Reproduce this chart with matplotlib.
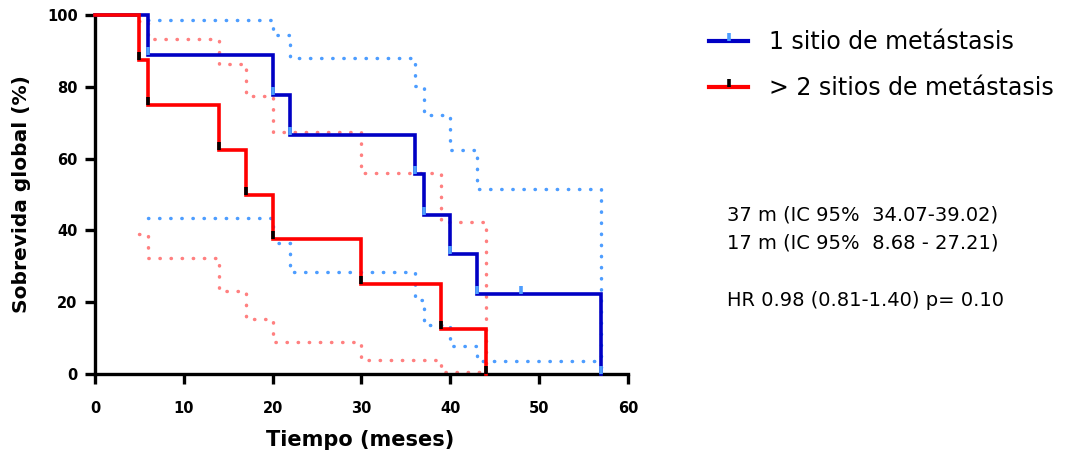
import matplotlib
matplotlib.use("Agg")
from matplotlib import pyplot as plt
from matplotlib.path import Path
from matplotlib.lines import Line2D

# Kaplan-Meier steps
t_one = [0, 6, 20, 22, 36, 37, 40, 43, 57]
s_one = [100, 88.9, 77.8, 66.7, 55.6, 44.4, 33.3, 22.2, 0]
cens_one_t = [48]
cens_one_s = [22.2]

t_two = [0, 5, 6, 14, 17, 20, 30, 39, 44]
s_two = [100, 87.5, 75, 62.5, 50, 37.5, 25, 12.5, 0]

# 95% confidence bands
ci_one_t = [6, 20, 22, 36, 37, 40, 43, 57]
ci_one_hi = [98.6, 94.4, 87.9, 80.2, 72.1, 62.4, 51.4, 51.4]
ci_one_lo = [43.4, 36.6, 28.4, 20.6, 13.7, 7.9, 3.6, 3.6]

ci_two_t = [5, 6, 14, 17, 20, 30, 39, 44]
ci_two_hi = [98.4, 93.3, 86.3, 77.5, 67.5, 55.9, 42.4, 42.4]
ci_two_lo = [38.9, 32.3, 23.2, 15.4, 8.8, 3.9, 0.6, 0.6]

labels = ['1 sitio de metástasis', '> 2 sitios de metástasis']
notes = ['37 m (IC 95%  34.07-39.02)', '17 m (IC 95%  8.68 - 27.21)',
         'HR 0.98 (0.81-1.40) p= 0.10']

BLUE = '#0000c4'
BLUE_LT = '#4d9dff'
RED = '#ff0000'
RED_LT = '#ff8080'

# tick mark drawn from the step level upwards
up_tick = Path([(0, 0), (0, 1)])


def km(ax, t, s, color, mark_color):
    ax.step(t, s, where='post', color=color, lw=2.6, clip_on=False,
            solid_joinstyle='miter', zorder=3)
    ax.plot(t[1:], s[1:], ls='none', marker=up_tick, ms=12, mew=2.6,
            mec=mark_color, clip_on=False, zorder=4)


def band(ax, t, v, color, drop=False):
    tt = list(t)
    vv = list(v)
    if drop:
        tt.append(t[-1])
        vv.append(0)
    ax.step(tt, vv, where='post', color=color, lw=2.5,
            ls=(0, (0.1, 3.1)), dash_capstyle='round', clip_on=False, zorder=2)


fig = plt.figure(figsize=(10.73, 4.59), dpi=100)
ax = fig.add_axes([0.0885, 0.1852, 0.4967, 0.782])

band(ax, ci_one_t, ci_one_hi, BLUE_LT, drop=True)
band(ax, ci_one_t, ci_one_lo, BLUE_LT)
band(ax, ci_two_t, ci_two_hi, RED_LT, drop=True)
band(ax, ci_two_t, ci_two_lo, RED_LT)

km(ax, t_one, s_one, BLUE, BLUE_LT)
ax.plot(cens_one_t, cens_one_s, ls='none', marker=up_tick, ms=12, mew=2.6,
        mec=BLUE_LT, zorder=4)
km(ax, t_two, s_two, RED, 'black')

ax.set_xlim(0, 60)
ax.set_ylim(0, 100)
ax.set_xticks(range(0, 61, 10))
ax.set_yticks(range(0, 101, 20))
for side in ['top', 'right']:
    ax.spines[side].set_visible(False)
for side in ['left', 'bottom']:
    ax.spines[side].set_linewidth(2.4)
ax.tick_params(axis='both', length=7, width=2.4, labelsize=10.5)
ax.tick_params(axis='x', pad=12.5)
ax.tick_params(axis='y', pad=5.5)
for lab in ax.get_xticklabels() + ax.get_yticklabels():
    lab.set_fontweight('bold')

ax.set_xlabel('Tiempo (meses)', fontsize=15, fontweight='bold', va='center')
ax.xaxis.set_label_coords(0.497, -0.184)
ax.set_ylabel('Sobrevida global (%)', fontsize=14.5, fontweight='bold', va='center')
ax.yaxis.set_label_coords(-0.137, 0.5)

handles = [
    (Line2D([], [], color=BLUE, lw=3),
     Line2D([], [], ls='none', marker=up_tick, ms=12, mew=2.6, mec=BLUE_LT)),
    (Line2D([], [], color=RED, lw=3),
     Line2D([], [], ls='none', marker=up_tick, ms=12, mew=2.6, mec='black')),
]
fig.legend(handles, labels, loc='upper left', bbox_to_anchor=(0.661, 0.935),
           frameon=False, fontsize=17, handlelength=1.65, handletextpad=0.9,
           labelspacing=0.95, borderpad=0, borderaxespad=0)

fig.text(0.6776, 1 - 215 / 459, notes[0], fontsize=14, va='center')
fig.text(0.6776, 1 - 243 / 459, notes[1], fontsize=14, va='center')
fig.text(0.6776, 1 - 301 / 459, notes[2], fontsize=14, va='center')

fig.savefig('out.png', dpi=100)
